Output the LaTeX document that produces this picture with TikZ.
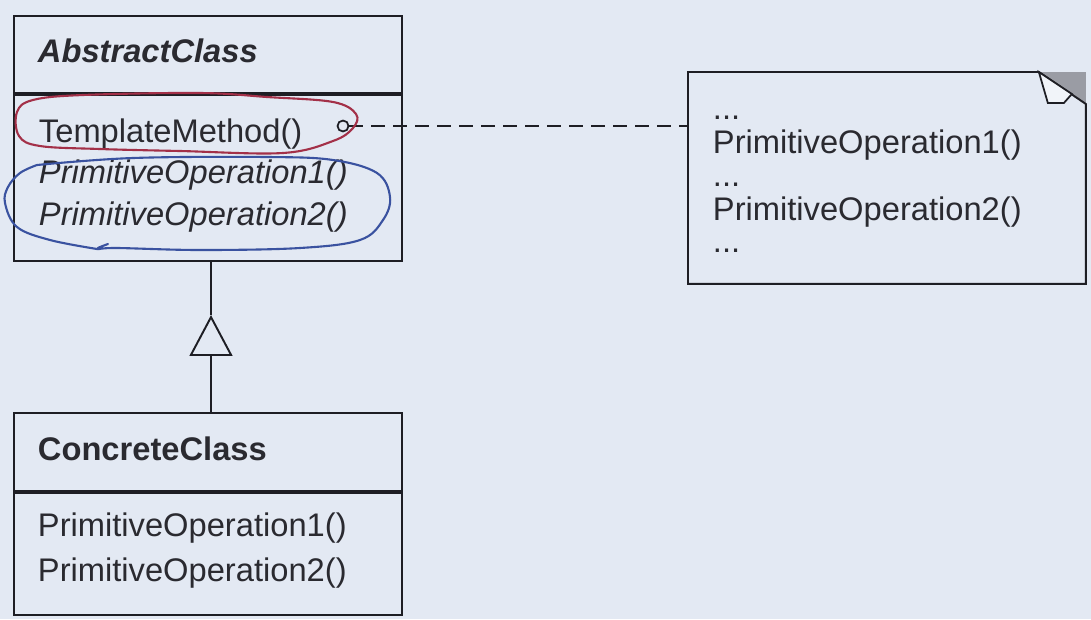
\documentclass[tikz,border=0pt]{standalone}
\usepackage{fontspec}
\setsansfont{Liberation Sans}
\usetikzlibrary{arrows.meta, positioning, calc}
\definecolor{cbg}{HTML}{E3E9F3}
\definecolor{cink}{HTML}{1E1E24}
\definecolor{ctext}{HTML}{2A2A30}
\definecolor{cred}{HTML}{A33048}
\definecolor{cblue}{HTML}{3A52A0}
\definecolor{cfold}{HTML}{9A9CA4}
\newcommand\opfont{\sffamily\fontsize{18.6}{22}\selectfont}
\newcommand\skipped{...}
\tikzset{
  every picture/.style={font=\sffamily, line width=1.1pt},
  compart/.style={draw=cink, minimum width=7.76cm, inner sep=0pt, anchor=north west},
  optext/.style={anchor=base west, inner sep=0pt, text=ctext, font=\opfont},
  link/.style={draw=cink, dash pattern=on 0.28cm off 0.16cm},
  inherit/.style={draw=cink, -{Triangle[open, length=0.82cm, width=0.86cm]}},
  scribble/.style={draw=#1, line width=1.2pt, line join=round, line cap=round},
}
\begin{document}
\begin{tikzpicture}[x=0.02cm, y=-0.02cm]
  \fill[cbg] (0,0) rectangle (1091,619);
  \useasboundingbox (0,0) rectangle (1091,619);
  % class boxes
  \node[compart, minimum height=1.54cm] (absHead) at (13,15) {};
  \node[compart, minimum height=3.32cm] (absBody) at (absHead.south west) {};
  \node[compart, minimum height=1.56cm] (concHead) at (13,412) {};
  \node[compart, minimum height=2.44cm] (concBody) at (concHead.south west) {};
  \node[optext, font=\opfont\bfseries\itshape] (absName) at (37,62) {AbstractClass};
  \node[optext, font=\opfont\bfseries] (concName) at (37,460) {ConcreteClass};
  \foreach \n/\y/\txt in {tm/142/TemplateMethod(), po1/183/\textit{PrimitiveOperation1()}, po2/225/\textit{PrimitiveOperation2()}}
    \node[optext] (abs\n) at (38,\y) {\txt};
  \foreach \n/\y/\txt in {po1/536/PrimitiveOperation1(), po2/581/PrimitiveOperation2()}
    \node[optext] (conc\n) at (37,\y) {\txt};
  % note with folded corner
  \node[minimum width=7.92cm, minimum height=4.2cm, inner sep=0pt, anchor=north west] (note) at (688,72) {};
  \coordinate (ear) at ($(note.north east)+(-47,0)$);
  \fill[cfold] (ear) -- (note.north east) -- ($(note.north east)+(0,32)$) -- cycle;
  \draw[cink] (note.north west) -- (ear) -- ($(note.north east)+(0,32)$) -- (note.south east) -- (note.south west) -- cycle;
  \filldraw[draw=cink, fill=cbg!50!white, line width=1pt] (ear) -- ++(9,31) -- ++(16,0) -- ($(ear)+(33,22)$) -- cycle;
  \foreach \n/\y/\txt in {d1/119/\skipped, n1/153/PrimitiveOperation1(), d2/186/\skipped, n2/220/PrimitiveOperation2(), d3/252/\skipped}
    \node[optext] (note\n) at (712,\y) {\txt};
  % connectors
  \node[circle, draw=cink, minimum size=0.22cm, inner sep=0pt, line width=1pt] (hook) at (343,126) {};
  \draw[link] (hook.east) -- (hook -| note.west);
  \coordinate (tri) at (211,315);
  \draw[cink] (tri |- absBody.south) -- (tri);
  \draw[inherit] (tri |- concHead.north) -- (tri);
  % pen marks
  \draw[scribble=cred] plot[smooth cycle, tension=0.6] coordinates {(17,112) (33,100) (83,95) (200,93) (267,97) (333,102) (356,114) (353,128) (333,141) (283,153) (180,151) (100,149) (40,146) (19,136)};
  \draw[scribble=cblue] plot[smooth, tension=0.6] coordinates {(37,165) (133,158) (267,157) (333,160) (377,173) (390,197) (383,220) (360,240) (300,248) (200,250) (117,248) (97,249) (108,244)};
  \draw[scribble=cblue] plot[smooth, tension=0.6] coordinates {(97,249) (50,240) (17,227) (5,203) (8,187) (20,173) (37,165)};
\end{tikzpicture}
\end{document}
